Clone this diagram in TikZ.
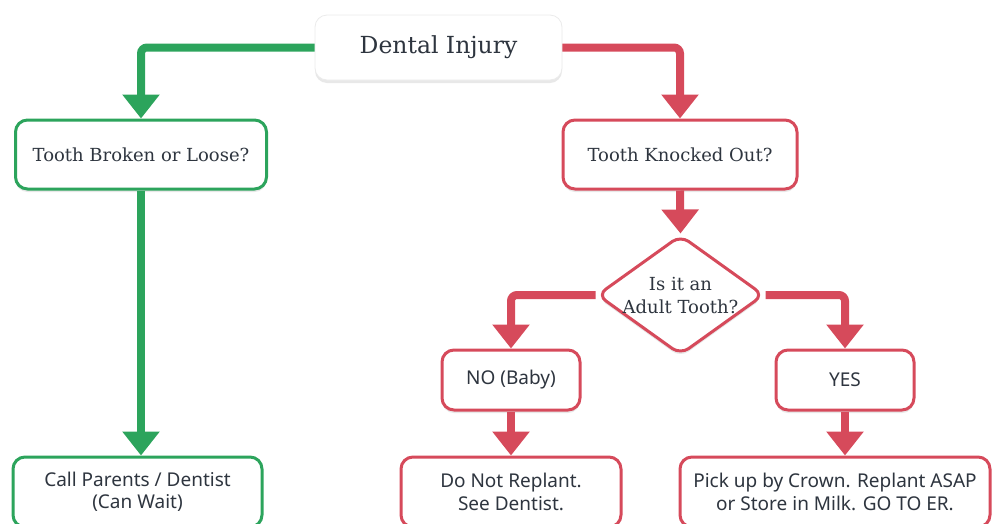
\documentclass[tikz,border=0pt]{standalone}
\usepackage{fontspec}
\setmainfont{DejaVu Serif}
\newfontfamily\uisans{Noto Sans}
\usetikzlibrary{arrows.meta,shapes.geometric,shadows,calc}
\definecolor{gr}{HTML}{2CA45C}
\definecolor{rd}{HTML}{D64A5B}
\definecolor{tx}{HTML}{2E353F}
\tikzset{
  x=1pt,y=-1pt,
  boxbase/.style={rounded corners=12pt,fill=white,text=tx,align=center,inner sep=0pt,
     drop shadow={opacity=0.18,shadow xshift=0pt,shadow yshift=-3pt}},
  gbox/.style={boxbase,draw=gr,line width=3pt},
  rbox/.style={boxbase,draw=rd,line width=3pt},
  gline/.style={draw=gr,line width=8pt,rounded corners=6pt,-{Triangle[width=36pt,length=24pt]}},
  rline/.style={draw=rd,line width=8pt,rounded corners=6pt,-{Triangle[width=36pt,length=24pt]}},
  serif/.style={font=\fontsize{18}{23}\selectfont},
  sans/.style={font=\uisans\fontsize{19}{22.5}\selectfont},
}
\begin{document}
\begin{tikzpicture}
\useasboundingbox (0,0) rectangle (992,523);
\clip (0,0) rectangle (992,523);
\node[boxbase,draw=black!8,line width=0.8pt,minimum width=247pt,minimum height=65pt,font=\fontsize{23.5}{28}\selectfont] (dental) at (438.5,47.5) {Dental Injury};
\node[gbox,serif,minimum width=251pt,minimum height=69pt] (broken) at (141,154.5) {Tooth Broken or Loose?};
\node[rbox,serif,minimum width=234pt,minimum height=69pt] (knocked) at (680,154.5) {Tooth Knocked Out?};
\node[rbox,shape=diamond,rounded corners=10pt,minimum width=167pt,minimum height=120pt,
  label={[serif,text=tx,align=center]center:Is it an\\Adult Tooth?}] (adult) at (680.5,295) {};
\node[rbox,sans,minimum width=138pt,minimum height=60pt] (no) at (511,380) {NO (Baby)};
\node[rbox,sans,minimum width=138pt,minimum height=60pt] (yes) at (845,380) {YES};
\node[gbox,sans,minimum width=249pt,minimum height=70pt] (callp) at (137.5,492) {Call Parents / Dentist\\(Can Wait)};
\node[rbox,sans,minimum width=220pt,minimum height=70pt] (replant) at (511,492) {Do Not Replant.\\See Dentist.};
\node[rbox,sans,minimum width=310pt,minimum height=70pt] (pickup) at (835,492) {Pick up by Crown. Replant ASAP\\or Store in Milk. GO TO ER.};
\draw[gline] (dental.west) -| (broken.north);
\draw[gline] (broken.south) -- (callp.north -| broken.south);
\draw[rline] (dental.east) -| (knocked.north);
\draw[rline] (knocked.south) -- (adult.north);
\draw[rline] (adult.west) -| (no.north);
\draw[rline] (adult.east) -| (yes.north);
\draw[rline] (no.south) -- (replant.north);
\draw[rline] (yes.south) -- (yes.south |- pickup.north);
\end{tikzpicture}
\end{document}
